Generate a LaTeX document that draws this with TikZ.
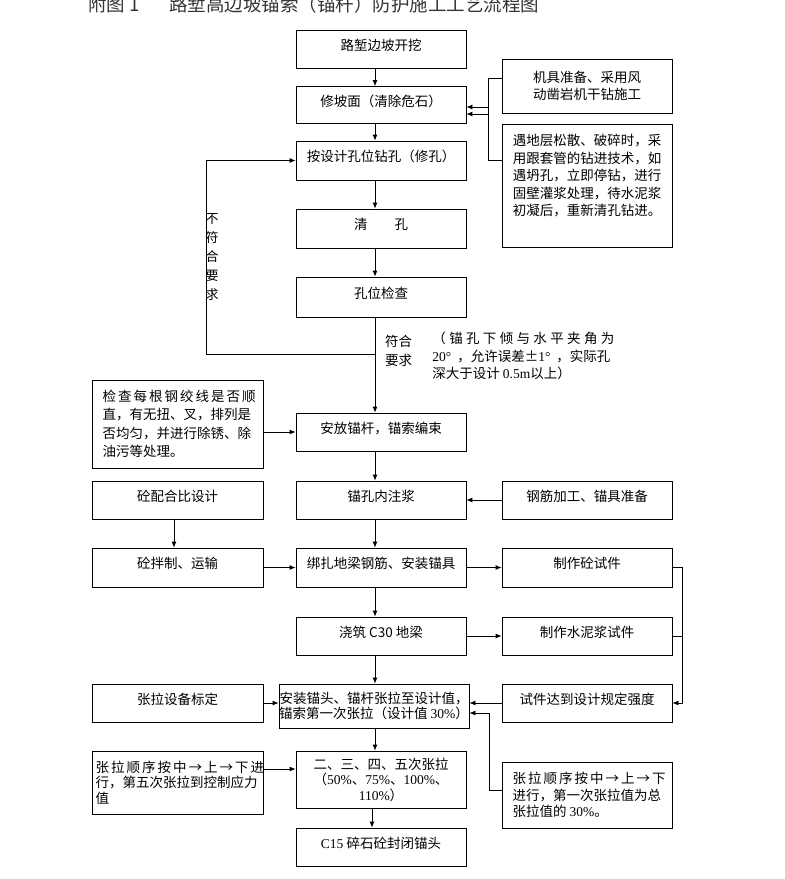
\documentclass[tikz,border=0pt]{standalone}
\usepackage{fontspec}
\setmainfont{Noto Sans CJK SC}
\newfontfamily\tnr{Liberation Serif}
\usetikzlibrary{arrows.meta}

\begin{document}
\begin{tikzpicture}[x=1pt,y=-1pt,>={Latex[length=6pt,width=5pt]},line width=0.8pt,
bx/.style={draw,minimum height=38pt,minimum width=170pt,inner sep=0pt,font=\fontsize{13.5}{18.5}\selectfont},
one/.style={bx,text height=10pt,text depth=8pt},
tx/.style={inner sep=0pt,font=\fontsize{13.5}{18.5}\selectfont}]
\useasboundingbox (0,0) rectangle (785,879);
\node[anchor=west,inner sep=0pt,font=\fontsize{18.5}{20}\selectfont,text=black!80] (tt) at (88,4.5) {附图 1\hspace{1.6em}路堑高边坡锚索（锚杆）防护施工工艺流程图};
\node[one] (b1) at (381,49.5) {路堑边坡开挖};
\node[one,minimum height=37pt] (b2) at (381,105) {修坡面（清除危石）};
\node[one,minimum height=39pt] (b3) at (381,160.5) {按设计孔位钻孔（修孔）};
\node[one,minimum height=39pt] (b4) at (381,228.5) {清\hspace{2em}孔};
\node[one,minimum height=40pt] (b5) at (381,297) {孔位检查};
\node[one] (b6) at (381,432) {安放锚杆，锚索编束};
\node[one] (b7) at (381,500) {锚孔内注浆};
\node[one,minimum height=39pt] (b8) at (381,567.5) {绑扎地梁钢筋、安装锚具};
\node[one] (b9) at (381,636) {浇筑 C30 地梁};
\node[bx,minimum width=190pt,minimum height=44pt,align=center,font=\fontsize{13.5}{15.5}\selectfont] (b10) at (374,706) {安装锚头、锚杆张拉至设计值，\\锚索第一次张拉（设计值 {\tnr 30\%}）};
\node[bx,minimum height=57pt,align=center,font=\fontsize{13.5}{15.5}\selectfont] (b11) at (381,779.5) {二、三、四、五次张拉\\（{\tnr 50\%}、{\tnr 75\%}、{\tnr 100\%}、\\{\tnr 110\%}）};
\node[one] (b12) at (381,847) {{\tnr C15} 碎石砼封闭锚头};
\node[bx,minimum width=171pt,minimum height=88pt,align=left] (l1) at (177.5,424) {\makebox[150pt][s]{检 查 每 根 钢 绞 线 是 否 顺}\\直，有无扭、叉，排列是\\否均匀，并进行除锈、除\\油污等处理。};
\node[one,minimum width=171pt] (l2) at (177.5,500) {砼配合比设计};
\node[one,minimum width=171pt,minimum height=39pt] (l3) at (177.5,567.5) {砼拌制、运输};
\node[one,minimum width=171pt] (l4) at (177.5,703) {张拉设备标定};
\node[bx,minimum width=171pt,minimum height=63pt,align=left,font=\fontsize{13.5}{15.5}\selectfont] (l5) at (177.5,782.5) {\makebox[164pt][s]{张 拉 顺 序 按 中 → 上 → 下 进}\\行，第五次张拉到控制应力\\值};
\node[bx,minimum height=54pt,align=center,font=\fontsize{13.5}{16.5}\selectfont] (r1) at (587,86) {机具准备、采用风\\动凿岩机干钻施工};
\node[bx,minimum height=123pt,align=left,text depth=21pt,font=\fontsize{13.5}{17.5}\selectfont] (r2) at (587,185.5) {遇地层松散、破碎时，采\\用跟套管的钻进技术，如\\遇坍孔，立即停钻，进行\\固壁灌浆处理，待水泥浆\\初凝后，重新清孔钻进。};
\node[one] (r7) at (587,500) {钢筋加工、锚具准备};
\node[one,minimum height=39pt] (r3) at (587,567.5) {制作砼试件};
\node[one] (r4) at (587,636) {制作水泥浆试件};
\node[one] (r5) at (587,703) {试件达到设计规定强度};
\node[bx,minimum height=66pt,align=left,font=\fontsize{13.5}{16.5}\selectfont] (r6) at (587,795) {\makebox[149pt][s]{张 拉 顺 序 按 中 → 上 → 下}\\进行，第一次张拉值为总\\张拉值的 {\tnr 30\%}。};
\node[tx,align=center,font=\fontsize{13}{19}\selectfont] (bf) at (212,257.5) {不\\符\\合\\要\\求};
\node[tx,align=left,font=\fontsize{13.5}{19}\selectfont] (fh) at (398.5,351) {符合\\要求};
\node[tx,align=left,anchor=north west,font=\fontsize{13.5}{17.5}\selectfont] (nt) at (432,332) {\makebox[182pt][s]{（ 锚 孔 下 倾 与 水 平 夹 角 为}\\\makebox[178pt][s]{{\tnr 20°} ，允许误差±{\tnr 1°} ，实际孔}\\深大于设计 {\tnr 0.5m}以上）};
\coordinate (ax) at (375,0);
\coordinate (lx) at (174,0);
\coordinate (lp) at (375,354);
\draw[->] (b1.south-|ax) -- (b2.north-|ax);
\draw[->] (b2.south-|ax) -- (b3.north-|ax);
\draw[->] (b3.south-|ax) -- (b4.north-|ax);
\draw[->] (b4.south-|ax) -- (b5.north-|ax);
\draw[->] (b5.south-|ax) -- (b6.north-|ax);
\draw[->] (b6.south-|ax) -- (b7.north-|ax);
\draw[->] (b7.south-|ax) -- (b8.north-|ax);
\draw[->] (b8.south-|ax) -- (b9.north-|ax);
\draw[->] (b9.south-|ax) -- (b10.north-|ax);
\draw[->] (b10.south-|ax) -- (b11.north-|ax);
\draw[->] ([xshift=-3pt]b11.south-|ax) -- ([xshift=-3pt]b12.north-|ax);
\draw[->] (lp) -- ++(-169,0) |- (b3.west);
\draw ([yshift=8pt]r1.west) -- ++(-13,0) |- ([yshift=25.5pt]r2.west);
\draw[<-] ([yshift=-2pt]b2.east) -- ++(23,0);
\draw[<-] ([yshift=-9pt]b2.east) -- ++(23,0);
\draw[->] (b6.west-|l1.east) -- (b6.west);
\draw[->] (r7.west) -- (b7.east);
\draw[->] (l2.south-|lx) -- (l3.north-|lx);
\draw[->] (l3.east) -- (b8.west);
\draw[->] (b8.east) -- (r3.west);
\draw[->] (b9.east) -- (r4.west);
\draw[->] (r3.east) -- ++(10,0) |- (r5.east);
\draw (r4.east) -- ++(10,0);
\draw[->] (r5.west) -- (b10.east|-r5.west);
\draw[->] (l4.east) -- (b10.west|-l4.east);
\draw[->] ([yshift=5pt]r6.west) -- ++(-12,0) |- ([yshift=-7pt]b10.east);
\draw[->] ([yshift=13.5pt]l5.east) -- ([yshift=10.5pt]b11.west);
\end{tikzpicture}
\end{document}
